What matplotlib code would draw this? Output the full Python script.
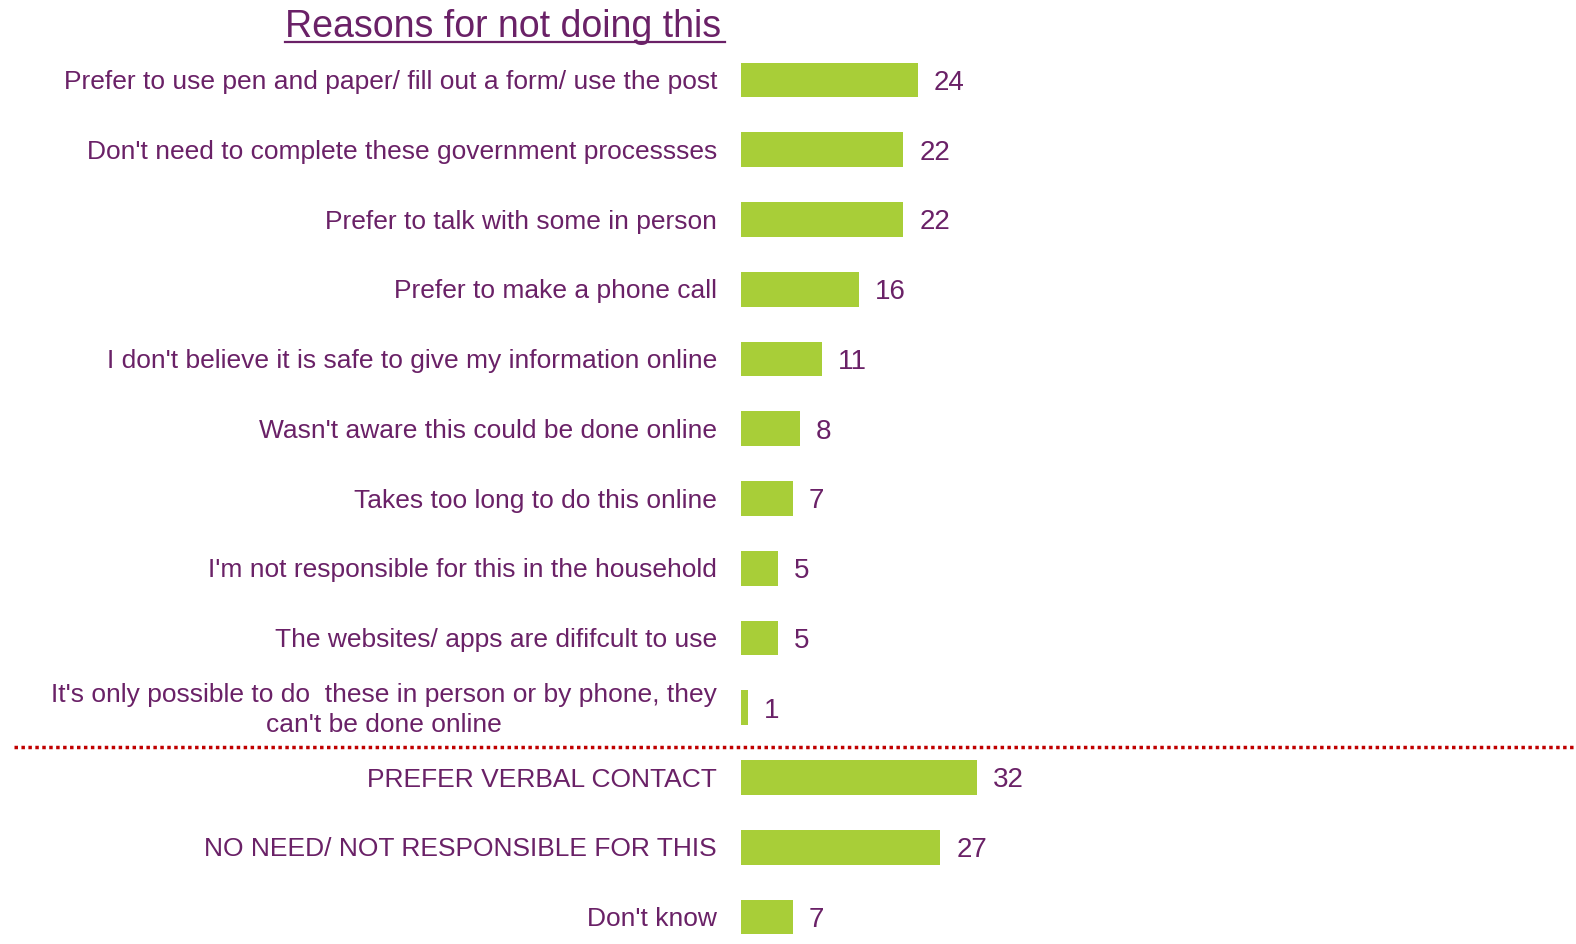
import matplotlib.pyplot as plt
from matplotlib.lines import Line2D

reasons = [
    "Prefer to use pen and paper/ fill out a form/ use the post",
    "Don't need to complete these government processses",
    "Prefer to talk with some in person",
    "Prefer to make a phone call",
    "I don't believe it is safe to give my information online",
    "Wasn't aware this could be done online",
    "Takes too long to do this online",
    "I'm not responsible for this in the household",
    "The websites/ apps are dififcult to use",
    "It's only possible to do  these in person or by phone, they\ncan't be done online",
    "PREFER VERBAL CONTACT",
    "NO NEED/ NOT RESPONSIBLE FOR THIS",
    "Don't know",
]
values = [24, 22, 22, 16, 11, 8, 7, 5, 5, 1, 32, 27, 7]

PURPLE = "#6A2167"
GREEN = "#A8CE38"
RED = "#C00000"

W, H = 1576, 944
plt.rcParams["font.family"] = ["Liberation Sans", "DejaVu Sans"]
fig = plt.figure(figsize=(W / 100, H / 100), dpi=100)

# bars live in an axes starting at the bar baseline; rows are ~70 px apart
x0 = 741
px_per_unit = 7.375
row0, step = 80, 69.75
ax = fig.add_axes([x0 / W, 0, 1 - x0 / W, 1])
ax.set_xlim(0, (W - x0) / px_per_unit)
ax.set_ylim((H - row0) / step, -row0 / step)
ax.axis("off")

ypos = list(range(len(values)))
ax.barh(ypos, values, height=0.5, color=GREEN)
for y, v, lab in zip(ypos, values, reasons):
    ax.text(v + 16 / px_per_unit, y + 0.04, str(v), ha="left", va="center",
            fontsize=20, color=PURPLE)
    ax.text(-24 / px_per_unit, y + 0.03, lab, ha="right", va="center",
            multialignment="center", fontsize=19, color=PURPLE,
            linespacing=1.3, clip_on=False)

# title with an underline running past the text
fig.text(285 / W, 1 - 27 / H, "Reasons for not doing this", ha="left", va="center",
         fontsize=27, color=PURPLE)
fig.add_artist(Line2D([285 / W, 725 / W], [1 - 42 / H, 1 - 42 / H], color=PURPLE, lw=1.6))

# dotted separator between individual reasons and grouped totals
fig.add_artist(Line2D([14 / W, 1], [1 - 747 / H, 1 - 747 / H], color=RED, lw=2.5,
                      linestyle=(0, (1, 1))))

fig.savefig("out.png", dpi=100, facecolor="white")
